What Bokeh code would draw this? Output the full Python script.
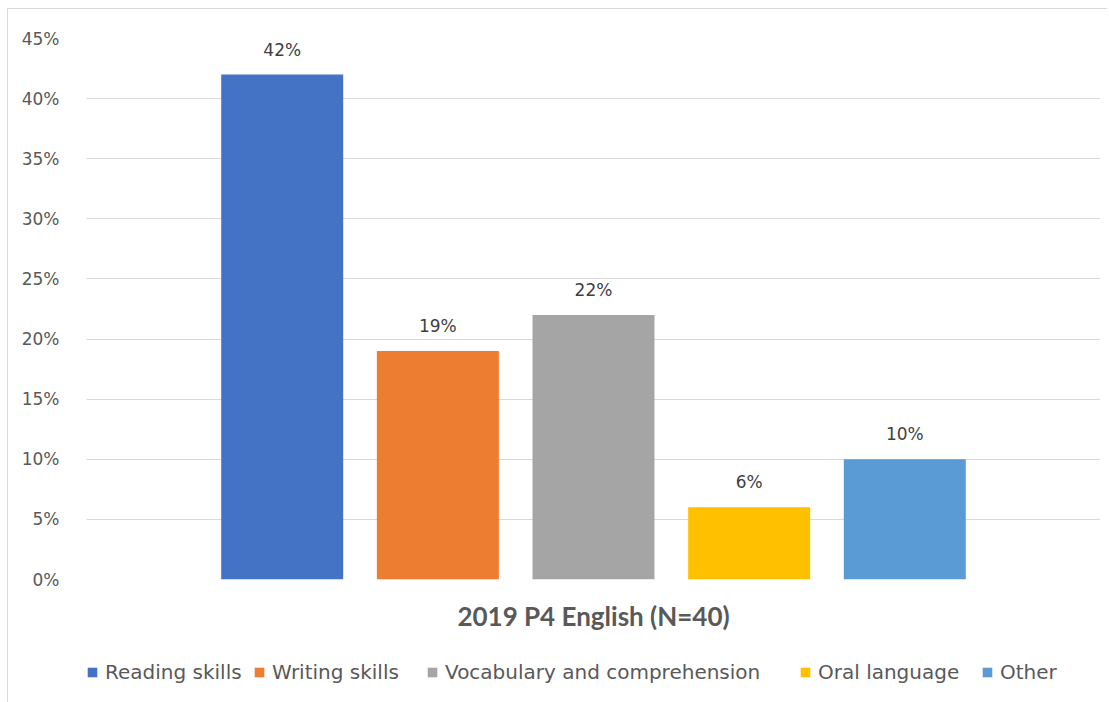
from bokeh.plotting import figure
from bokeh.models import ColumnDataSource, FactorRange, Range1d, PrintfTickFormatter, FixedTicker, Legend
from bokeh.layouts import column
from bokeh.transform import dodge
from bokeh.core.properties import value
from bokeh.embed import file_html
from bokeh.resources import INLINE

category = "2019 P4 English (N=40)"
series = ["Reading skills", "Writing skills", "Vocabulary and comprehension", "Oral language", "Other"]
values = [42, 19, 22, 6, 10]
colors = ["#4472C4", "#ED7D31", "#A5A5A5", "#FFC000", "#5B9BD5"]
y_ticks = [0, 5, 10, 15, 20, 25, 30, 35, 40, 45]

# legend entry left edges (layout, screen px relative to legend strip frame)
legend_x = [0, 167, 340, 713, 895]

p = figure(
    width=1100, height=632,
    x_range=FactorRange(factors=[category], range_padding=0),
    y_range=Range1d(0, 45),
    output_backend="svg", toolbar_location=None,
    min_border_left=78, min_border_top=29, min_border_right=8, min_border_bottom=62,
    margin=(8, 0, 0, 7),
    styles={"border-left": "1px solid #d9d9d9", "border-top": "1px solid #d9d9d9"},
)
p.outline_line_color = None
p.background_fill_color = "white"
p.border_fill_color = "white"

p.yaxis.ticker = FixedTicker(ticks=y_ticks)
p.yaxis.formatter = PrintfTickFormatter(format="%d%%")
p.yaxis.axis_line_color = None
p.yaxis.major_tick_line_color = None
p.yaxis.minor_tick_line_color = None
p.yaxis.major_label_text_font = "DejaVu Sans"
p.yaxis.major_label_text_font_size = "17px"
p.yaxis.major_label_text_color = "#595959"
p.yaxis.major_label_standoff = 21

p.xaxis.axis_line_color = None
p.xaxis.major_tick_line_color = None
p.xaxis.minor_tick_line_color = None
p.xaxis.major_label_text_font = "Lato"
p.xaxis.major_label_text_font_style = "bold"
p.xaxis.major_label_text_font_size = "26px"
p.xaxis.major_label_text_color = "#595959"
p.xaxis.major_label_standoff = 14

p.xgrid.grid_line_color = None
p.ygrid.grid_line_color = "#d9d9d9"
p.ygrid.grid_line_width = 1

spacing = 0.1535
bar_w = 0.1203

# legend-only strip below
lf = figure(
    width=1100, height=62, x_range=Range1d(0, 1), y_range=Range1d(0, 1),
    x_axis_location=None, y_axis_location=None,
    output_backend="svg", toolbar_location=None,
    min_border=0, margin=(0, 0, 0, 7),
    styles={"border-left": "1px solid #d9d9d9"},
)
lf.grid.visible = False
lf.outline_line_color = None

for i, (name, v, c) in enumerate(zip(series, values, colors)):
    src = ColumnDataSource(dict(cat=[category], val=[v], lab=[f"{v}%"]))
    off = (i - 2) * spacing
    p.vbar(x=dodge("cat", off, range=p.x_range), top="val", width=bar_w, source=src,
           fill_color=c, line_color=None)
    p.text(x=dodge("cat", off, range=p.x_range), y="val", text="lab", source=src,
           text_align="center", text_baseline="middle", y_offset=-25,
           text_font=value("DejaVu Sans"), text_font_size="17px", text_color="#404040")
    lr = lf.vbar(x=[0.5], top=[0], bottom=[0], width=0.001, fill_color=c, line_color=None)
    lg = Legend(items=[(name, [lr])], orientation="horizontal", location=(legend_x[i], 18),
                glyph_width=12, glyph_height=12, label_standoff=7, label_height=22,
                label_text_font="DejaVu Sans", label_text_font_size="20px",
                label_text_color="#595959", border_line_color=None,
                background_fill_alpha=0, margin=0, padding=0)
    lf.add_layout(lg, "center")

layout = column(p, lf, spacing=0)
open("out.html", "w").write(file_html(layout, INLINE))
